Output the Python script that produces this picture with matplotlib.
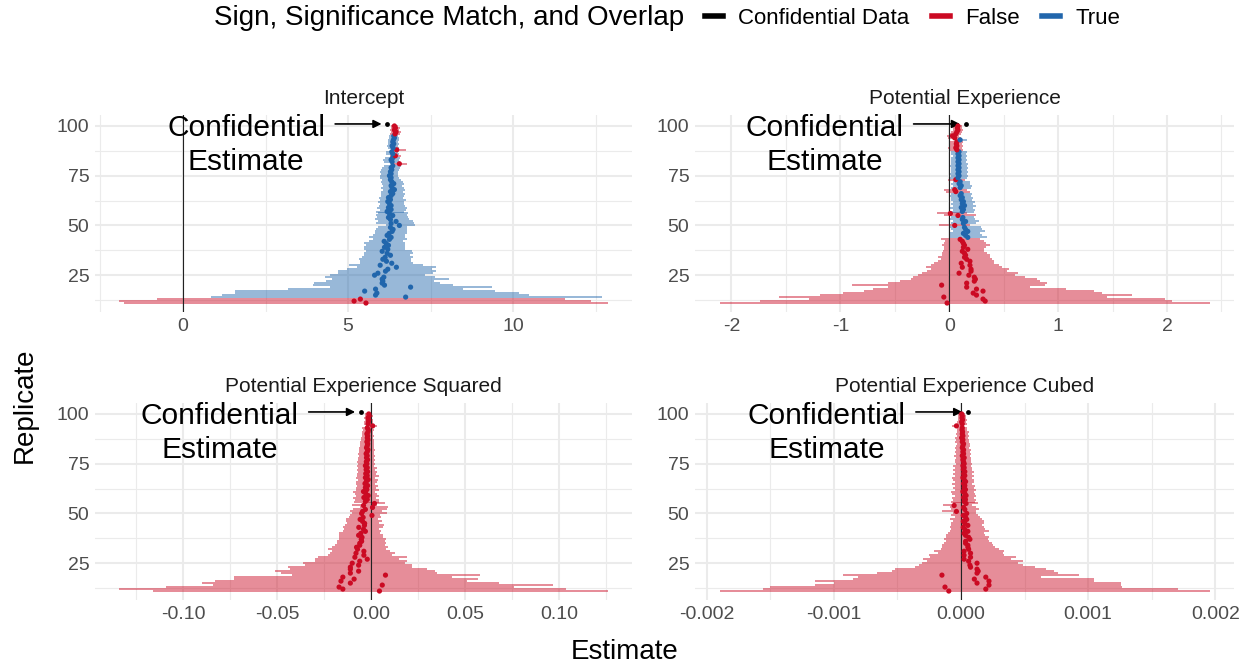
import numpy as np
import matplotlib
matplotlib.use("Agg")
import matplotlib.pyplot as plt
from matplotlib.lines import Line2D
from matplotlib.ticker import MultipleLocator, FormatStrFormatter

plt.rcParams['font.family'] = ['Liberation Sans', 'DejaVu Sans']
plt.rcParams['axes.unicode_minus'] = False

# replicate index (rows of every panel), confidential estimate drawn at 101
replicates = list(range(11, 101))
conf_row = 101

# ---- Intercept
int_est = [5.54, 5.18, 5.37, 6.74, 5.83, 5.87, 5.50, 5.83, 6.89, 6.10,
           6.03, 6.05, 6.03, 6.08, 5.80, 5.90, 6.13, 6.20, 6.46, 5.97,
           6.32, 6.16, 6.05, 6.12, 6.28, 6.18, 6.03, 6.20, 6.10, 6.22,
           6.15, 6.09, 6.25, 6.30, 6.18, 6.24, 6.33, 6.36, 6.28, 6.55,
           6.30, 6.45, 6.28, 6.22, 6.35, 6.25, 6.18, 6.30, 6.22, 6.30,
           6.25, 6.20, 6.28, 6.22, 6.30, 6.35, 6.28, 6.40, 6.33, 6.30,
           6.38, 6.32, 6.28, 6.30, 6.25, 6.30, 6.28, 6.32, 6.30, 6.35,
           6.55, 6.33, 6.30, 6.35, 6.43, 6.35, 6.32, 6.47, 6.36, 6.33,
           6.38, 6.35, 6.37, 6.40, 6.38, 6.42, 6.45, 6.40, 6.43, 6.40]
int_lo = [-1.77, -1.92, -0.78, 0.84, 1.18, 1.58, 1.58, 3.17, 4.44, 3.93,
          3.98, 4.34, 4.52, 4.30, 4.44, 4.70, 4.70, 4.96, 5.27, 5.03,
          5.37, 5.37, 5.32, 5.42, 5.49, 5.47, 5.54, 5.49, 5.49, 5.54,
          5.49, 5.64, 5.75, 5.64, 5.75, 5.80, 5.82, 5.85, 5.90, 6.16,
          5.85, 5.90, 5.80, 5.88, 5.85, 5.90, 5.85, 5.95, 5.88, 5.92,
          5.95, 5.90, 5.95, 5.92, 5.98, 6.00, 5.98, 6.05, 6.00, 6.05,
          6.02, 6.00, 6.02, 5.95, 5.95, 5.98, 5.95, 6.00, 6.02, 6.10,
          6.37, 6.08, 6.05, 6.12, 6.28, 6.15, 6.15, 6.30, 6.20, 6.18,
          6.22, 6.20, 6.22, 6.25, 6.24, 6.28, 6.30, 6.27, 6.30, 6.30]
int_hi = [12.85, 12.34, 11.55, 12.67, 10.48, 10.16, 9.45, 8.48, 9.36, 8.17,
          7.77, 7.59, 8.05, 7.62, 7.33, 7.57, 7.66, 7.54, 7.66, 7.26,
          6.95, 6.89, 6.89, 6.95, 6.87, 6.95, 6.92, 6.72, 6.72, 6.72,
          6.72, 6.67, 6.77, 6.72, 6.72, 6.77, 6.79, 6.79, 6.77, 7.02,
          7.00, 6.95, 6.85, 6.80, 6.78, 6.82, 6.70, 6.75, 6.78, 6.72,
          6.70, 6.68, 6.75, 6.65, 6.70, 6.72, 6.65, 6.72, 6.68, 6.62,
          6.70, 6.65, 6.60, 6.55, 6.50, 6.52, 6.50, 6.55, 6.58, 6.60,
          6.77, 6.58, 6.55, 6.58, 6.60, 6.55, 6.52, 6.75, 6.55, 6.52,
          6.55, 6.52, 6.55, 6.55, 6.52, 6.57, 6.60, 6.55, 6.57, 6.52]
int_false = [11, 12, 13, 81, 85, 88, 96, 97, 98, 99, 100]
int_conf = 6.18

# ---- Potential Experience
exp_est = [-0.02, 0.33, 0.31, -0.05, 0.25, 0.22, 0.31, 0.25, 0.16, -0.07,
           0.16, 0.23, 0.24, 0.23, 0.18, 0.09, 0.20, 0.20, 0.12, 0.19,
           0.11, 0.19, 0.16, 0.14, 0.15, 0.14, 0.12, 0.17, 0.13, 0.14,
           0.13, 0.12, 0.10, 0.17, 0.15, 0.13, 0.17, 0.15, 0.14, 0.05,
           0.13, 0.15, 0.12, 0.125, 0.08, 0.01, 0.12, 0.13, 0.11, 0.14,
           0.12, 0.13, 0.11, 0.12, 0.10, 0.11, 0.06, 0.05, 0.10, 0.11,
           0.09, 0.10, 0.06, 0.08, 0.09, 0.08, 0.09, 0.08, 0.09, 0.08,
           0.09, 0.08, 0.09, 0.08, 0.09, 0.08, 0.09, 0.07, 0.06, 0.07,
           0.065, 0.07, 0.10, 0.05, 0.03, 0.06, 0.07, 0.08, 0.075, 0.08]
exp_lo = [-2.11, -1.74, -1.29, -1.56, -1.19, -0.98, -0.78, -0.70, -0.56, -0.89,
          -0.56, -0.45, -0.35, -0.33, -0.29, -0.25, -0.20, -0.17, -0.21, -0.17,
          -0.14, -0.10, -0.08, -0.10, -0.07, -0.07, -0.06, -0.05, -0.05, -0.07,
          -0.05, -0.04, -0.08, 0.01, 0.01, 0.00, 0.03, 0.02, 0.01, -0.09,
          0.02, 0.03, 0.01, 0.02, -0.05, -0.11, 0.02, 0.03, 0.01, 0.03,
          0.02, 0.03, 0.02, 0.02, 0.01, 0.02, -0.03, -0.05, 0.02, 0.03,
          0.02, 0.03, -0.01, 0.01, 0.02, 0.01, 0.02, 0.02, 0.02, 0.01,
          0.02, 0.02, 0.02, 0.02, 0.03, 0.02, 0.02, 0.00, -0.01, 0.00,
          0.00, 0.01, 0.05, -0.015, -0.02, 0.01, 0.02, 0.03, 0.03, 0.04]
exp_hi = [2.39, 2.05, 1.98, 1.45, 1.68, 1.40, 1.33, 1.07, 0.74, 0.88,
          0.90, 0.83, 0.81, 0.70, 0.60, 0.63, 0.53, 0.55, 0.48, 0.46,
          0.41, 0.41, 0.39, 0.37, 0.37, 0.35, 0.32, 0.32, 0.34, 0.37,
          0.34, 0.32, 0.28, 0.35, 0.30, 0.28, 0.33, 0.30, 0.29, 0.19,
          0.25, 0.27, 0.24, 0.23, 0.25, 0.16, 0.23, 0.24, 0.22, 0.25,
          0.22, 0.24, 0.21, 0.22, 0.20, 0.21, 0.19, 0.16, 0.20, 0.21,
          0.19, 0.19, 0.14, 0.16, 0.17, 0.16, 0.17, 0.16, 0.17, 0.16,
          0.17, 0.15, 0.16, 0.15, 0.16, 0.15, 0.16, 0.13, 0.12, 0.13,
          0.12, 0.13, 0.16, 0.11, 0.09, 0.11, 0.12, 0.13, 0.12, 0.12]
exp_false = list(range(11, 44)) + [50, 55, 56, 67, 68, 73, 88, 89, 90, 91, 92,
                                   94, 95, 96, 97, 98, 99, 100]
exp_conf = 0.15

# ---- Potential Experience Squared
sq_est = [0.0045, -0.015, -0.017, 0.006, -0.011, -0.016, -0.009, -0.015, 0.0077, -0.011,
          -0.0066, -0.011, -0.011, -0.0066, -0.010, -0.006, -0.002, -0.0086, -0.0038, -0.008,
          -0.0038, -0.0072, -0.0077, -0.006, -0.006, -0.005, -0.0052, -0.0048, -0.0066, -0.0054,
          -0.003, -0.004, -0.0065, -0.0035, -0.0034, -0.0045, -0.0058, -0.0042, 0.0005, -0.005,
          -0.0045, -0.003, 0.0008, -0.004, 0.0018, -0.003, -0.002, -0.0038, -0.0015, -0.0028,
          -0.004, -0.0022, -0.003, -0.0018, -0.0032, -0.0025, -0.0015, -0.003, -0.002, -0.0028,
          -0.0018, -0.0026, -0.002, -0.003, -0.0022, -0.0025, -0.0018, -0.0024, -0.002, -0.0026,
          -0.002, -0.0016, -0.0024, -0.002, -0.0018, -0.0022, -0.0016, -0.002, -0.0018, -0.0022,
          -0.0016, -0.0014, -0.002, 0.0009, -0.0016, -0.0014, -0.0012, -0.0016, -0.001, -0.0012]
sq_lo = [-0.116, -0.134, -0.109, -0.084, -0.090, -0.083, -0.073, -0.073, -0.042, -0.048,
         -0.051, -0.043, -0.044, -0.035, -0.036, -0.030, -0.030, -0.028, -0.023, -0.022,
         -0.021, -0.023, -0.021, -0.019, -0.018, -0.018, -0.017, -0.0168, -0.0168, -0.017,
         -0.0149, -0.0144, -0.0149, -0.0138, -0.0126, -0.0131, -0.0135, -0.0117, -0.0113, -0.0102,
         -0.011, -0.0095, -0.006, -0.010, -0.0045, -0.009, -0.0085, -0.0098, -0.008, -0.0085,
         -0.0095, -0.008, -0.0082, -0.0075, -0.008, -0.0078, -0.007, -0.0078, -0.0072, -0.0075,
         -0.0068, -0.0072, -0.007, -0.0075, -0.0068, -0.0072, -0.007, -0.0068, -0.0066, -0.007,
         -0.0066, -0.0062, -0.0064, -0.006, -0.0058, -0.006, -0.0055, -0.0052, -0.005, -0.005,
         -0.0046, -0.0045, -0.0046, -0.002, -0.004, -0.0036, -0.0034, -0.0036, -0.003, -0.003]
sq_hi = [0.126, 0.104, 0.076, 0.097, 0.068, 0.051, 0.057, 0.043, 0.058, 0.035,
         0.034, 0.030, 0.022, 0.022, 0.018, 0.019, 0.015, 0.019, 0.011, 0.0126,
         0.0099, 0.008, 0.009, 0.0072, 0.008, 0.0077, 0.008, 0.0063, 0.0063, 0.0049,
         0.0054, 0.0045, 0.0063, 0.0067, 0.0045, 0.0059, 0.0036, 0.0054, 0.0049, 0.0084,
         0.006, 0.0085, 0.0089, 0.003, 0.0075, 0.004, 0.0045, 0.0025, 0.0042, 0.003,
         0.002, 0.004, 0.0028, 0.0035, 0.0022, 0.003, 0.0038, 0.002, 0.0045, 0.0025,
         0.0032, 0.002, 0.003, 0.0018, 0.0022, 0.0018, 0.002, 0.0016, 0.002, 0.0014,
         0.0018, 0.002, 0.0014, 0.0018, 0.0016, 0.0014, 0.0018, 0.0012, 0.0014, 0.001,
         0.0012, 0.0016, 0.0008, 0.003, 0.001, 0.0009, 0.001, 0.0006, 0.0009, 0.0006]
sq_false = replicates
sq_conf = -0.0055

# ---- Potential Experience Cubed (values in thousandths)
cub_est = [-0.096, 0.195, -0.126, 0.22, 0.126, 0.22, 0.105, 0.195, -0.15, 0.126,
           0.135, 0.126, 0.075, 0.07, 0.126, 0.06, 0.024, 0.075, 0.024, 0.075,
           0.024, 0.06, 0.054, 0.054, 0.036, 0.036, 0.07, 0.06, 0.036, 0.024,
           0.054, 0.03, 0.018, 0.054, 0.03, 0.018, 0.045, 0.036, 0.018, 0.045,
           -0.036, 0.03, 0.02, -0.054, 0.04, 0.025, 0.035, 0.02, 0.04, 0.03,
           0.015, 0.035, 0.025, 0.03, 0.02, 0.036, 0.025, 0.015, 0.03, 0.02,
           0.03, 0.018, 0.025, 0.015, 0.025, 0.02, 0.015, 0.025, 0.01, 0.02,
           0.015, 0.02, 0.01, 0.015, 0.02, 0.01, 0.015, 0.005, 0.015, 0.01,
           0.012, 0.008, 0.01, -0.036, 0.01, 0.005, 0.012, 0.008, 0.01, 0.005]
cub_lo = [-1.90, -1.56, -1.50, -1.15, -1.00, -1.15, -0.85, -0.81, -0.93, -0.66,
          -0.54, -0.52, -0.36, -0.33, -0.31, -0.27, -0.30, -0.24, -0.25, -0.18,
          -0.21, -0.16, -0.15, -0.15, -0.13, -0.12, -0.13, -0.12, -0.12, -0.10,
          -0.09, -0.075, -0.09, -0.075, -0.075, -0.06, -0.09, -0.045, -0.075, -0.06,
          -0.15, -0.08, -0.09, -0.14, -0.06, -0.08, -0.06, -0.07, -0.05, -0.07,
          -0.08, -0.05, -0.06, -0.05, -0.07, -0.05, -0.06, -0.07, -0.05, -0.06,
          -0.05, -0.06, -0.05, -0.06, -0.04, -0.05, -0.05, -0.04, -0.055, -0.04,
          -0.045, -0.04, -0.05, -0.04, -0.035, -0.045, -0.04, -0.045, -0.035, -0.04,
          -0.035, -0.035, -0.03, -0.07, -0.03, -0.03, -0.025, -0.025, -0.02, -0.025]
cub_hi = [1.955, 1.71, 1.27, 1.26, 1.26, 1.05, 1.05, 0.63, 0.93, 0.76,
          0.73, 0.67, 0.58, 0.49, 0.45, 0.49, 0.39, 0.43, 0.34, 0.33,
          0.34, 0.30, 0.27, 0.25, 0.24, 0.22, 0.21, 0.22, 0.19, 0.18,
          0.22, 0.19, 0.18, 0.165, 0.18, 0.18, 0.165, 0.15, 0.135, 0.12,
          0.12, 0.14, 0.12, 0.09, 0.13, 0.11, 0.12, 0.10, 0.12, 0.11,
          0.10, 0.12, 0.10, 0.11, 0.09, 0.105, 0.10, 0.09, 0.10, 0.09,
          0.10, 0.09, 0.09, 0.08, 0.09, 0.08, 0.075, 0.08, 0.07, 0.075,
          0.07, 0.075, 0.065, 0.07, 0.07, 0.06, 0.065, 0.055, 0.06, 0.055,
          0.06, 0.05, 0.05, 0.00, 0.045, 0.04, 0.045, 0.04, 0.04, 0.035]
cub_false = replicates
cub_conf = 0.054

milli = 1e-3
panels = [
    ("Intercept", int_est, int_lo, int_hi, int_false, int_conf, 1, 5, "%g"),
    ("Potential Experience", exp_est, exp_lo, exp_hi, exp_false, exp_conf, 1, 1, "%g"),
    ("Potential Experience Squared", sq_est, sq_lo, sq_hi, sq_false, sq_conf, 1, 0.05, "%.2f"),
    ("Potential Experience Cubed", cub_est, cub_lo, cub_hi, cub_false, cub_conf, milli, 0.001, "%.3f"),
]

red = "#CB0A23"
blue = "#2166AC"
grid_col = "#EBEBEB"

W, H = 1253, 667
fig = plt.figure(figsize=(W / 100, H / 100), dpi=100)


def box(l, t, r, b):
    return [l / W, 1 - b / H, (r - l) / W, (b - t) / H]


boxes = [box(95, 115, 632, 312), box(695, 115, 1234, 312),
         box(95, 403, 632, 600), box(695, 403, 1234, 600)]

for (title, est, lo, hi, false_rows, conf, scale, step, fmt), rect in zip(panels, boxes):
    ax = fig.add_axes(rect)
    est = np.array(est) * scale
    lo = np.array(lo) * scale
    hi = np.array(hi) * scale
    rows = np.array(replicates)
    is_false = np.isin(rows, false_rows)
    cols = np.where(is_false, red, blue)

    ax.hlines(rows, lo, hi, colors=cols, lw=1.1, alpha=0.6, zorder=2)
    ax.axvline(0, color="#222222", lw=0.8, zorder=3)
    ax.scatter(est, rows, c=cols, s=14, linewidths=0, zorder=4)
    ax.scatter([conf * scale], [conf_row], c="black", s=12, linewidths=0, zorder=4)

    ax.margins(x=0.05)
    ax.set_ylim(6.5, 105.5)
    ax.xaxis.set_major_locator(MultipleLocator(step))
    ax.xaxis.set_minor_locator(MultipleLocator(step / 2))
    ax.xaxis.set_major_formatter(FormatStrFormatter(fmt))
    ax.yaxis.set_major_locator(MultipleLocator(25))
    ax.yaxis.set_minor_locator(MultipleLocator(12.5))
    ax.grid(which="major", color=grid_col, lw=1.5, zorder=0)
    ax.grid(which="minor", color=grid_col, lw=0.8, zorder=0)
    ax.set_axisbelow(True)
    for s in ax.spines.values():
        s.set_visible(False)
    ax.tick_params(which="both", length=0, labelsize=14, labelcolor="#4D4D4D", pad=4)
    ax.set_title(title, fontsize=15, color="#1A1A1A", pad=8)

    # label with arrow pointing at the confidential estimate
    ax.annotate("", xy=(conf * scale, conf_row), xycoords="data",
                xytext=(-52, 0), textcoords="offset pixels",
                arrowprops=dict(arrowstyle="-|>", color="black", lw=1.2,
                                mutation_scale=12, shrinkA=0, shrinkB=4))
    ax.annotate("Confidential\nEstimate", xy=(conf * scale, conf_row), xycoords="data",
                xytext=(-62, -46), textcoords="offset pixels",
                ha="right", va="baseline", multialignment="center",
                fontsize=21.5, linespacing=1.25, color="black")

fig.text(25 / W, 1 - 405 / H, "Replicate", rotation=90, ha="center", va="center", fontsize=20)
fig.text(625 / W, 1 - 652 / H, "Estimate", ha="center", va="center", fontsize=20)

# legend on top
fig.text(214 / W, 1 - 18 / H, "Sign, Significance Match, and Overlap",
         ha="left", va="center", fontsize=20)
handles = [Line2D([], [], color="black", lw=4),
           Line2D([], [], color=red, lw=4),
           Line2D([], [], color=blue, lw=4)]
fig.legend(handles, ["Confidential Data", "False", "True"], loc="center left",
           bbox_to_anchor=(705 / W, 1 - 18 / H), ncol=3, frameon=False, fontsize=16,
           handlelength=0.8, handletextpad=0.7, columnspacing=1.0,
           borderaxespad=0, borderpad=0)

fig.savefig("out.png", dpi=100)
